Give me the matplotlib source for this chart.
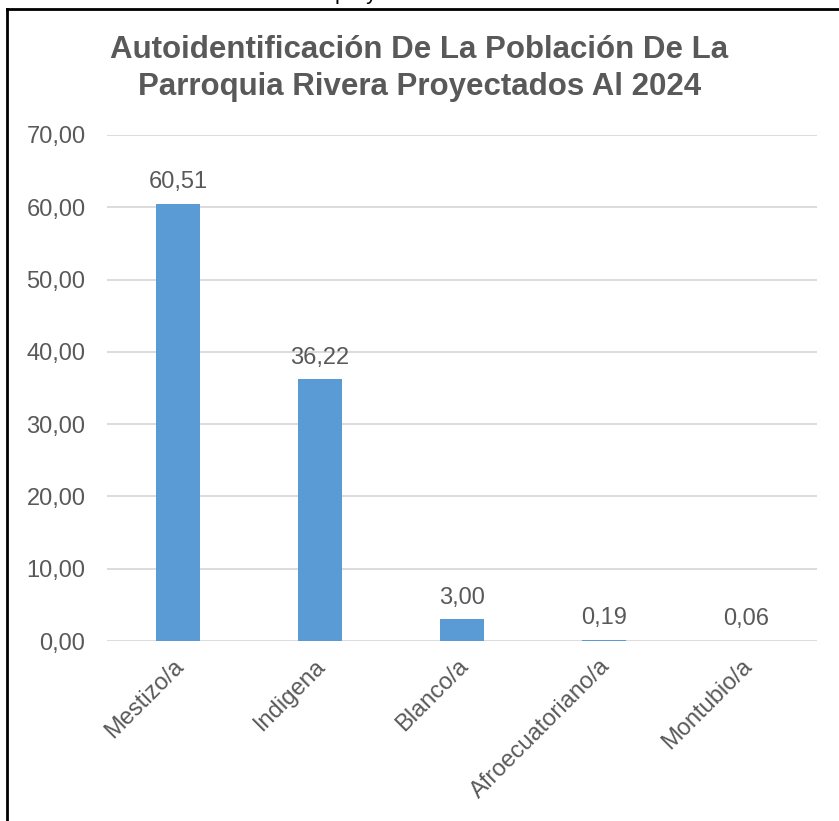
import matplotlib.pyplot as plt
import matplotlib.transforms as mtransforms
from matplotlib.lines import Line2D
from matplotlib.ticker import FuncFormatter

categorias = ["Mestizo/a", "Indigena", "Blanco/a", "Afroecuatoriano/a", "Montubio/a"]
porcentajes = [60.51, 36.22, 3.00, 0.19, 0.06]
titulo_l1 = "Autoidentificación De La Población De La"
titulo_l2 = "Parroquia Rivera Proyectados Al 2024"
texto_cortado = "proyectados al 2024"

plt.rcParams["font.family"] = ["Liberation Sans", "DejaVu Sans"]
gris = "#595959"
azul = "#5B9BD5"

W, H = 839, 821
fig = plt.figure(figsize=(W / 100, H / 100), dpi=100)
ax = fig.add_axes([107 / W, (H - 641) / H, 710 / W, 506 / H])

x = range(len(categorias))
bars = ax.bar(x, porcentajes, width=0.31, color=azul, zorder=3)

for b, v in zip(bars, porcentajes):
    ax.annotate(f"{v:.2f}".replace(".", ","), (b.get_x() + b.get_width() / 2, v),
                xytext=(0, 11), textcoords="offset points", ha="center", va="baseline",
                fontsize=17, color=gris)

ax.set_xlim(-0.5, len(categorias) - 0.5)
ax.set_ylim(0, 70)
ax.set_yticks(range(0, 71, 10))
ax.yaxis.set_major_formatter(FuncFormatter(lambda v, p: f"{v:.2f}".replace(".", ",")))
ax.set_xticks(list(x))
ax.set_xticklabels(categorias, rotation=45, ha="right", rotation_mode="anchor")
ax.tick_params(axis="both", length=0, labelsize=17, labelcolor=gris)
ax.tick_params(axis="y", pad=15.5)
ax.tick_params(axis="x", pad=10)
desplaza = mtransforms.ScaledTranslation(-5 / 100, 0, fig.dpi_scale_trans)
for lbl in ax.get_xticklabels():
    lbl.set_transform(lbl.get_transform() + desplaza)
ax.grid(axis="y", color="#D9D9D9", linewidth=1.3, zorder=0)
for s in ax.spines.values():
    s.set_visible(False)

fig.text(0.5, 1 - 58 / H, titulo_l1, ha="center", va="baseline", fontsize=22.5,
         fontweight="bold", color=gris)
fig.text(0.5, 1 - 95 / H, titulo_l2, ha="center", va="baseline", fontsize=22.5,
         fontweight="bold", color=gris)

# texto de la pagina que queda cortado arriba
fig.text(432 / W, 1 + 0.5 / H, texto_cortado, ha="center", va="baseline",
         fontsize=15.5, color="black")

# marco negro (solo se ven el borde superior e izquierdo)
fig.add_artist(Line2D([7 / W, 7 / W], [0, 1 - 9 / H], transform=fig.transFigure,
                      color="black", linewidth=2))
fig.add_artist(Line2D([7 / W, 1], [1 - 9 / H, 1 - 9 / H], transform=fig.transFigure,
                      color="black", linewidth=2))

fig.savefig("out.png", dpi=100)
